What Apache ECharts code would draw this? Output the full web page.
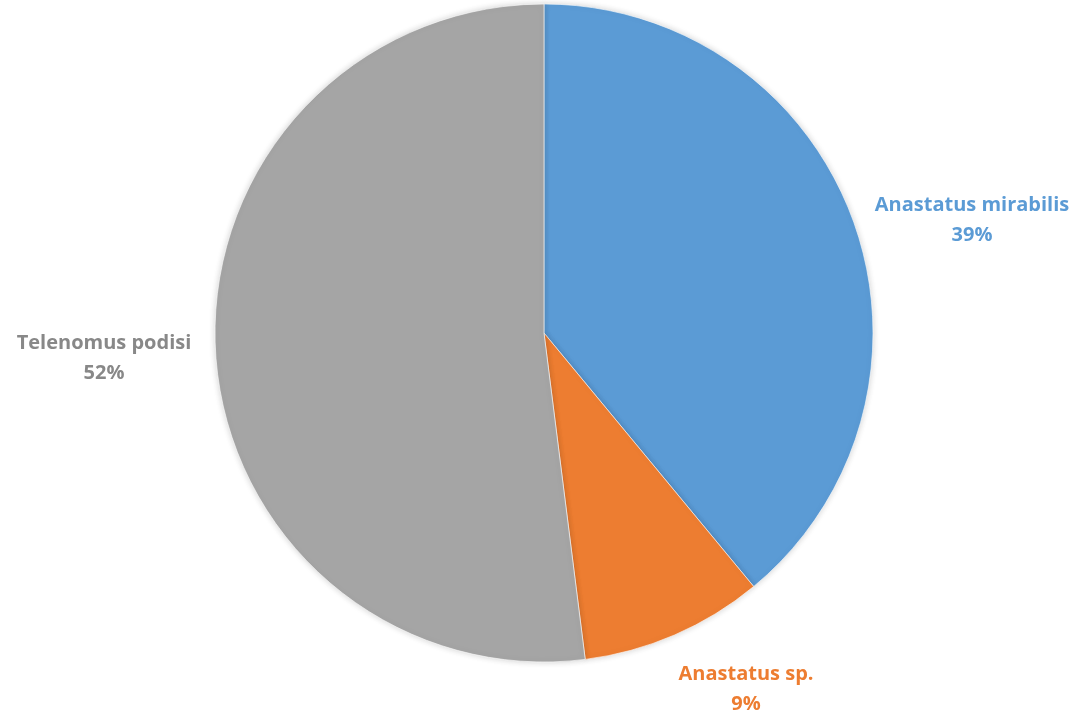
<!DOCTYPE html>
<html>
<head>
<meta charset="utf-8">
<style>
  html, body { margin: 0; padding: 0; background: #ffffff; }
  #chart { width: 1076px; height: 715px; }
</style>
<script src="https://cdn.jsdelivr.net/npm/echarts@6/dist/echarts.min.js"></script>
</head>
<body>
<div id="chart"></div>
<script>
// Species share of parasitoids
const species = ['Anastatus mirabilis', 'Anastatus sp.', 'Telenomus podisi'];
const shares = [39, 9, 52];
const sliceColors = ['#5B9BD5', '#ED7D31', '#A5A5A5'];
const labelColors = ['#5B9BD5', '#ED7D31', '#888888'];

// Centre point of each two-line label
const labelAnchors = [[972, 220], [746, 689], [104, 358]];

const chart = echarts.init(document.getElementById('chart'), null, { renderer: 'canvas' });

chart.setOption({
  animation: false,
  backgroundColor: '#ffffff',
  series: [{
    type: 'pie',
    center: [544, 333],
    radius: 329,
    startAngle: 90,
    clockwise: true,
    data: species.map((name, i) => ({
      name,
      value: shares[i],
      itemStyle: { color: sliceColors[i] },
      label: { color: labelColors[i] }
    })),
    itemStyle: {
      borderColor: 'rgba(255,255,255,0.6)',
      borderWidth: 1,
      shadowBlur: 6,
      shadowColor: 'rgba(0,0,0,0.18)'
    },
    label: {
      show: true,
      position: 'outside',
      formatter: '{b}\n{d}%',
      fontFamily: 'Open Sans',
      fontWeight: 'bold',
      fontSize: 20,
      lineHeight: 30,
      align: 'center',
      overflow: 'none',
      edgeDistance: 0
    },
    labelLine: { show: false },
    labelLayout: function (p) {
      const a = labelAnchors[p.dataIndex];
      return { x: a[0], y: a[1], align: 'center', verticalAlign: 'middle' };
    },
    emphasis: { disabled: true }
  }]
});
</script>
</body>
</html>
